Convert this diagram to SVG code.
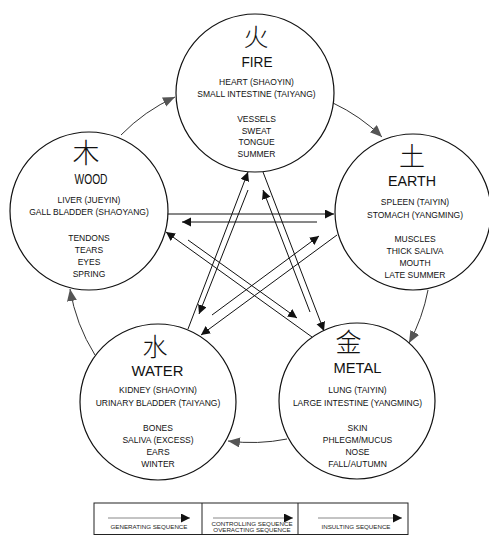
<svg xmlns="http://www.w3.org/2000/svg" width="489" height="535" viewBox="0 0 489 535">
<style>
.circ{fill:#fff;stroke:#111;stroke-width:1.2}
.han{font-family:"Noto Sans CJK SC","Noto Sans CJK JP",sans-serif;fill:#111;text-anchor:middle;font-weight:300}
.big{font-family:"Liberation Sans",Arial,sans-serif;font-size:15px;fill:#111;text-anchor:middle}
.sm{font-family:"Liberation Sans",Arial,sans-serif;font-size:8.5px;fill:#111;text-anchor:middle}
.gen{fill:none;stroke:#333;stroke-width:1;marker-end:url(#ag)}
.ctl{fill:none;stroke:#111;stroke-width:1;marker-end:url(#ak)}
.lg{font-family:"Liberation Sans",Arial,sans-serif;font-size:6.2px;fill:#222;text-anchor:middle}
.lgl{stroke:#888;stroke-width:1}
</style>
<defs>
<marker id="ag" markerUnits="userSpaceOnUse" markerWidth="14" markerHeight="12" refX="12" refY="5" orient="auto"><path d="M0,0 L12,5 L0,10 z" fill="#555"/></marker>
<marker id="ak" markerUnits="userSpaceOnUse" markerWidth="12" markerHeight="10" refX="9" refY="4.5" orient="auto"><path d="M0,0 L9,4.5 L0,9 z" fill="#111"/></marker>
</defs>
<rect width="489" height="535" fill="#fff"/>
<g id="connectors">
<path class="gen" d="M121,135 A180,180 0 0,1 175,97"/>
<path class="gen" d="M333,103 A180,180 0 0,1 382,137"/>
<path class="gen" d="M428,290 A180,180 0 0,1 409,343"/>
<path class="gen" d="M287,439 A180,180 0 0,1 228,441"/>
<path class="gen" d="M95,355 A180,180 0 0,1 70,289"/>
<path class="ctl" d="M167,214 L334,214"/>
<path class="ctl" d="M337,235 L201,335"/>
<path class="ctl" d="M188,329 L248,172"/>
<path class="ctl" d="M263,172 L324,331"/>
<path class="ctl" d="M312,337 L166,232"/>
<path class="ctl" d="M317,222 L182,222"/>
<path class="ctl" d="M212,315 L319,236"/>
<path class="ctl" d="M248,190 L199,314"/>
<path class="ctl" d="M310,312 L263,190"/>
<path class="ctl" d="M188,240 L297,318"/>
</g>
<g id="fire">
<circle class="circ" cx="255" cy="93" r="79"/>
<text class="han" x="256" y="46" font-size="25">火</text>
<text class="big" x="257" y="67" textLength="31" lengthAdjust="spacingAndGlyphs">FIRE</text>
<text class="sm" x="256.5" y="85">HEART (SHAOYIN)</text>
<text class="sm" x="256.5" y="97">SMALL INTESTINE (TAIYANG)</text>
<text class="sm" x="256.5" y="122">VESSELS</text>
<text class="sm" x="256.5" y="133.7">SWEAT</text>
<text class="sm" x="256.5" y="145.4">TONGUE</text>
<text class="sm" x="256.5" y="157">SUMMER</text>
</g>
<g id="wood">
<circle class="circ" cx="89" cy="211" r="79"/>
<text class="han" x="86" y="163" font-size="27">木</text>
<text class="big" x="91" y="184" textLength="33" lengthAdjust="spacingAndGlyphs">WOOD</text>
<text class="sm" x="89" y="203">LIVER (JUEYIN)</text>
<text class="sm" x="89" y="215">GALL BLADDER (SHAOYANG)</text>
<text class="sm" x="89" y="241">TENDONS</text>
<text class="sm" x="89" y="253">TEARS</text>
<text class="sm" x="89" y="265">EYES</text>
<text class="sm" x="89" y="277">SPRING</text>
</g>
<g id="earth">
<circle class="circ" cx="413" cy="212" r="78"/>
<text class="han" x="412" y="166" font-size="26">土</text>
<text class="big" x="412" y="186" textLength="48" lengthAdjust="spacingAndGlyphs">EARTH</text>
<text class="sm" x="415" y="205">SPLEEN (TAIYIN)</text>
<text class="sm" x="415" y="218">STOMACH (YANGMING)</text>
<text class="sm" x="415" y="242">MUSCLES</text>
<text class="sm" x="415" y="254">THICK SALIVA</text>
<text class="sm" x="415" y="266">MOUTH</text>
<text class="sm" x="415" y="278">LATE SUMMER</text>
</g>
<g id="water">
<circle class="circ" cx="158" cy="402" r="78"/>
<text class="han" x="155" y="356" font-size="25">水</text>
<text class="big" x="157.5" y="376" textLength="52" lengthAdjust="spacingAndGlyphs">WATER</text>
<text class="sm" x="158" y="393">KIDNEY (SHAOYIN)</text>
<text class="sm" x="158" y="406">URINARY BLADDER (TAIYANG)</text>
<text class="sm" x="158" y="431">BONES</text>
<text class="sm" x="158" y="443">SALIVA (EXCESS)</text>
<text class="sm" x="158" y="455">EARS</text>
<text class="sm" x="158" y="467">WINTER</text>
</g>
<g id="metal">
<circle class="circ" cx="357" cy="401" r="78"/>
<text class="han" x="348.5" y="352" font-size="26">金</text>
<text class="big" x="357.5" y="373" textLength="48" lengthAdjust="spacingAndGlyphs">METAL</text>
<text class="sm" x="357.5" y="393">LUNG (TAIYIN)</text>
<text class="sm" x="357.5" y="406">LARGE INTESTINE (YANGMING)</text>
<text class="sm" x="357.5" y="431">SKIN</text>
<text class="sm" x="357.5" y="443">PHLEGM/MUCUS</text>
<text class="sm" x="357.5" y="455">NOSE</text>
<text class="sm" x="357.5" y="467">FALL/AUTUMN</text>
</g>
<g id="legend">
<rect x="94" y="503" width="314" height="31.5" fill="none" stroke="#222" stroke-width="1"/>
<line x1="202" y1="503" x2="202" y2="535" stroke="#222" stroke-width="1"/>
<line x1="298" y1="503" x2="298" y2="535" stroke="#222" stroke-width="1"/>
<line class="lgl" x1="108" y1="518" x2="190" y2="518" marker-end="url(#ak)"/>
<line class="lgl" x1="213" y1="518" x2="293" y2="518" marker-end="url(#ak)"/>
<line class="lgl" x1="318" y1="518" x2="402" y2="518" marker-end="url(#ak)"/>
<text class="lg" x="149" y="529">GENERATING SEQUENCE</text>
<text class="lg" x="252" y="526">CONTROLLING SEQUENCE</text>
<text class="lg" x="252" y="532">OVERACTING SEQUENCE</text>
<text class="lg" x="356" y="529">INSULTING SEQUENCE</text>
</g>
</svg>
